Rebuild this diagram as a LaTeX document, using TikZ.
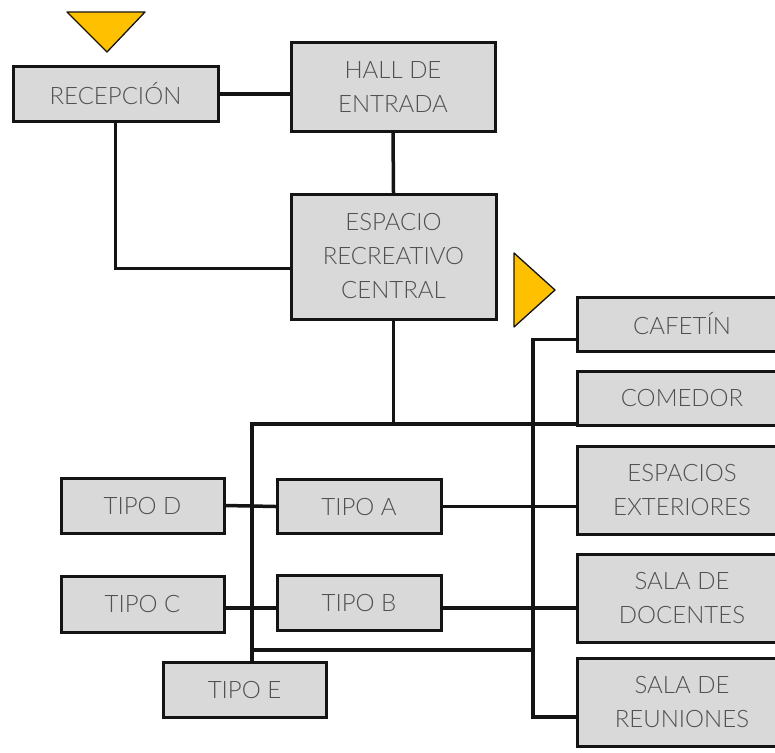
\documentclass[tikz,border=0pt]{standalone}
\usepackage{fontspec}
\setmainfont{Lato}[UprightFont=* Light]
\definecolor{boxfill}{RGB}{217,217,217}
\definecolor{boxtext}{RGB}{80,80,80}
\definecolor{marker}{RGB}{255,192,0}
\definecolor{ink}{RGB}{20,20,20}

\begin{document}
\begin{tikzpicture}[x=1pt,y=-1pt,
 every node/.style={font=\fontsize{24}{34}\selectfont},
 room/.style={draw=ink,fill=boxfill,text=boxtext,line width=3pt,
   align=center,inner sep=0pt,minimum width=#1},
 room/.default=205pt,
 link/.style={ink,line width=3.5pt,line cap=rect,line join=miter},
 entry/.style={fill=marker,draw=ink,line width=1.3pt,line join=round}]
 \useasboundingbox (0,0) rectangle (775,752);
 % entradas
 \filldraw[entry] (67,12)--(145,12)--(107,52)--cycle;
 \filldraw[entry] (514,253)--(514,327)--(555,290)--cycle;
 % bloque superior
 \node[room,minimum height=55pt] (recep) at (115.5,94) {RECEPCIÓN};
 \node[room=204pt,minimum height=88pt] (hall) at (393,87) {HALL DE\\ENTRADA};
 \node[room,minimum height=125pt] (espacio) at (393.5,256.5)
   {ESPACIO\\RECREATIVO\\CENTRAL};
 % servicios
 \node[room=210pt,minimum height=54pt] (cafetin) at (682,324) {CAFETÍN};
 \node[room=210pt,minimum height=54pt] (comedor) at (682,398.5) {COMEDOR};
 \node[room=210pt,minimum height=88pt] (exter) at (682,490) {ESPACIOS\\EXTERIORES};
 \node[room=210pt,minimum height=88pt] (docentes) at (682,598) {SALA DE\\DOCENTES};
 \node[room=210pt,minimum height=88pt] (reuniones) at (682,702) {SALA DE\\REUNIONES};
 % aulas
 \node[room=163pt,minimum height=55pt] (tipod) at (142.5,505.5) {TIPO D};
 \node[room=164pt,minimum height=54pt] (tipoa) at (359,506.5) {TIPO A};
 \node[room=163pt,minimum height=56pt] (tipoc) at (142.5,604) {TIPO C};
 \node[room=164pt,minimum height=55pt] (tipob) at (359,602.5) {TIPO B};
 \node[room=163pt,minimum height=55pt] (tipoe) at (244.5,689.5) {TIPO E};
 % ejes de circulacion
 \coordinate (nw) at (252,424);
 \coordinate (se) at (533,650);
 \draw[link] (recep.east)--(recep.east -| hall.west);
 \draw[link] (hall.south)--(espacio.north);
 \draw[link] (recep.south)|-([yshift=-12pt]espacio.west);
 \draw[link] (espacio.south)--(espacio.south |- nw);
 \draw[link] (nw -| comedor.west)--(nw)--(nw |- tipoe.north);
 \draw[link] (nw |- se)--(se);
 \draw[link] ([yshift=13pt]cafetin.south west)-|(se)
   |-([yshift=-15pt]reuniones.west);
 \draw[link] (tipod.east)--(tipoa.west);
 \draw[link] (tipoa.east)--(tipoa.east -| exter.west);
 \draw[link] ([yshift=-4pt]tipoc.east)--([yshift=-4pt]tipoc.east -| tipob.west);
 \draw[link] ([yshift=-4pt]tipob.east |- tipoc.east)
   --([yshift=-4pt]tipoc.east -| docentes.west);
\end{tikzpicture}
\end{document}
